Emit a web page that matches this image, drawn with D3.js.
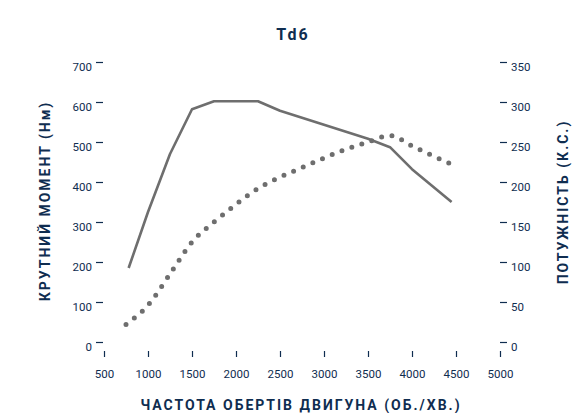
<!DOCTYPE html>
<html>
<head>
<meta charset="utf-8">
<script src="https://cdn.jsdelivr.net/npm/d3@7"></script>
<style>
  body { margin: 0; background: #fff; }
  svg text { font-family: Roboto, "Open Sans", sans-serif; }
</style>
</head>
<body>
<svg id="chart" width="586" height="413"></svg>
<script>
// ── Data ──────────────────────────────────────────────────────────────
const torqueRpm   = [780, 1000, 1250, 1500, 1750, 2250, 2500, 3000, 3500, 3750, 4000, 4450];
const torqueNm    = [185, 325, 470, 582, 602, 602, 578, 543, 508, 487, 432, 350];

const powerRpm    = [750, 1000, 1250, 1500, 1750, 2000, 2250, 2500, 2750, 3000, 3250, 3500, 3750, 4000, 4250, 4500];
const powerHp     = [22, 46, 85, 125, 150, 172, 192, 206, 218, 230, 241, 250, 258, 245, 232, 220];

const xTicks      = [500, 1000, 1500, 2000, 2500, 3000, 3500, 4000, 4500, 5000];
const torqueTicks = [0, 100, 200, 300, 400, 500, 600, 700];
const powerTicks  = [0, 50, 100, 150, 200, 250, 300, 350];

const TITLE   = 'Td6';
const X_LABEL = 'ЧАСТОТА ОБЕРТІВ ДВИГУНА (ОБ./ХВ.)';
const YL_LABEL = 'КРУТНИЙ МОМЕНТ (Нм)';
const YR_LABEL = 'ПОТУЖНІСТЬ (К.С.)';

// ── Layout ────────────────────────────────────────────────────────────
const TEXT = '#0f2d50';
const LINE = '#6e6e6e';
const PLOT = { left: 104, right: 500, top: 62, bottom: 342 };

const svg = d3.select('#chart');

const x  = d3.scaleLinear().domain([500, 5000]).range([PLOT.left, PLOT.right]);
const yL = d3.scaleLinear().domain([0, 700]).range([PLOT.bottom, PLOT.top]);
const yR = d3.scaleLinear().domain([0, 350]).range([PLOT.bottom, PLOT.top]);

function styleAxis(g) {
  g.select('.domain').remove();
  g.selectAll('line').attr('stroke', TEXT).attr('stroke-width', 1.2);
  g.selectAll('text')
    .attr('fill', TEXT)
    .attr('font-size', '11.5px')
    .style('font-family', 'Roboto, "Open Sans", sans-serif');
}

// left axis
svg.append('g')
  .attr('transform', `translate(${PLOT.left - 1},0)`)
  .call(d3.axisLeft(yL).tickValues(torqueTicks).tickSize(7).tickPadding(4).tickFormat(d3.format('d')))
  .call(styleAxis)
  .call(g => g.selectAll('text').attr('dy', '0.74em'));

// right axis
svg.append('g')
  .attr('transform', `translate(${PLOT.right},0)`)
  .call(d3.axisRight(yR).tickValues(powerTicks).tickSize(7).tickPadding(4).tickFormat(d3.format('d')))
  .call(styleAxis)
  .call(g => g.selectAll('text').attr('dy', '0.74em'));

// bottom axis
svg.append('g')
  .attr('transform', `translate(0,${PLOT.bottom + 9})`)
  .call(d3.axisBottom(x).tickValues(xTicks).tickSize(6).tickPadding(13).tickFormat(d3.format('d')))
  .call(styleAxis);

// ── Lines ─────────────────────────────────────────────────────────────
const torqueLine = d3.line()
  .x((d, i) => x(torqueRpm[i]))
  .y(d => yL(d));

svg.append('path')
  .datum(torqueNm)
  .attr('d', torqueLine)
  .attr('fill', 'none')
  .attr('stroke', LINE)
  .attr('stroke-width', 2.6)
  .attr('stroke-linejoin', 'round');

const powerLine = d3.line()
  .x((d, i) => x(powerRpm[i]))
  .y(d => yR(d))
  .curve(d3.curveMonotoneX);

svg.append('path')
  .datum(powerHp)
  .attr('d', powerLine)
  .attr('fill', 'none')
  .attr('stroke', LINE)
  .attr('stroke-width', 5)
  .attr('stroke-linecap', 'round')
  .attr('stroke-dasharray', '0 10.5');

// ── Titles ────────────────────────────────────────────────────────────
svg.append('text')
  .attr('x', 293).attr('y', 40)
  .attr('text-anchor', 'middle')
  .attr('fill', TEXT)
  .attr('font-size', '16px')
  .attr('font-weight', 'bold')
  .attr('letter-spacing', '2px')
  .text(TITLE);

svg.append('text')
  .attr('x', 301).attr('y', 410)
  .attr('text-anchor', 'middle')
  .attr('fill', TEXT)
  .attr('font-size', '14px')
  .attr('font-weight', 'bold')
  .attr('letter-spacing', '2px')
  .text(X_LABEL);

svg.append('text')
  .attr('transform', 'translate(50,201) rotate(-90)')
  .attr('text-anchor', 'middle')
  .attr('fill', TEXT)
  .attr('font-size', '14px')
  .attr('font-weight', 'bold')
  .attr('letter-spacing', '2px')
  .text(YL_LABEL);

svg.append('text')
  .attr('transform', 'translate(568,202) rotate(-90)')
  .attr('text-anchor', 'middle')
  .attr('fill', TEXT)
  .attr('font-size', '14px')
  .attr('font-weight', 'bold')
  .attr('letter-spacing', '2px')
  .text(YR_LABEL);
</script>
</body>
</html>
